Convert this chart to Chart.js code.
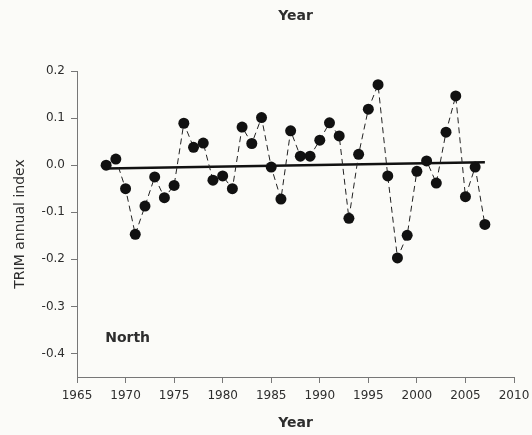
<!DOCTYPE html>
<html lang="en">
<head>
    <meta charset="UTF-8">
    <title>TRIM annual index - North</title>
    <script src="https://cdn.jsdelivr.net/npm/chart.js"></script>
    <style>
        body {
            margin: 0;
            background-color: #fbfbf8;
        }
        #chartBox {
            width: 532px;
            height: 435px;
        }
    </style>
</head>
<body>
    <div id="chartBox">
        <canvas id="trimChart" width="532" height="435"></canvas>
    </div>

    <script>
        // values
        const years = [1968, 1969, 1970, 1971, 1972, 1973, 1974, 1975, 1976, 1977,
                       1978, 1979, 1980, 1981, 1982, 1983, 1984, 1985, 1986, 1987,
                       1988, 1989, 1990, 1991, 1992, 1993, 1994, 1995, 1996, 1997,
                       1998, 1999, 2000, 2001, 2002, 2003, 2004, 2005, 2006, 2007];
        const indexValues = [0.000, 0.013, -0.050, -0.147, -0.087, -0.025, -0.069, -0.043, 0.089, 0.038,
                             0.047, -0.032, -0.023, -0.050, 0.081, 0.046, 0.101, -0.004, -0.072, 0.073,
                             0.019, 0.019, 0.053, 0.090, 0.062, -0.113, 0.023, 0.119, 0.171, -0.023,
                             -0.197, -0.149, -0.013, 0.009, -0.038, 0.070, 0.147, -0.067, -0.004, -0.126];
        const trendYears = [1968, 2007];
        const trendValues = [-0.007, 0.006];
        const xTicks = [1965, 1970, 1975, 1980, 1985, 1990, 1995, 2000, 2005, 2010];
        const yTicks = [0.2, 0.1, 0.0, -0.1, -0.2, -0.3, -0.4];
        const regionLabel = 'North';

        const textColor = '#2e2e2e';
        const axisColor = '#777777';

        // draws the region name inside the plot
        const regionLabelPlugin = {
            id: 'regionLabel',
            afterDatasetsDraw(chart) {
                const { ctx, scales } = chart;
                const x = scales.x.getPixelForValue(1967.9);
                const y = scales.y.getPixelForValue(-0.367);
                ctx.save();
                ctx.font = 'bold 14px "DejaVu Sans"';
                ctx.fillStyle = textColor;
                ctx.textAlign = 'left';
                ctx.textBaseline = 'middle';
                ctx.fillText(regionLabel, x, y);
                ctx.restore();
            }
        };

        const ctx = document.getElementById('trimChart').getContext('2d');
        new Chart(ctx, {
            type: 'scatter',
            data: {
                datasets: [
                    {
                        label: 'TRIM annual index',
                        data: years.map((yr, i) => ({ x: yr, y: indexValues[i] })),
                        showLine: true,
                        borderColor: '#222222',
                        borderWidth: 1,
                        borderDash: [6, 4],
                        pointRadius: 5.5,
                        pointBackgroundColor: '#111111',
                        pointBorderColor: '#111111',
                        pointBorderWidth: 0
                    },
                    {
                        label: 'Trend',
                        data: trendYears.map((yr, i) => ({ x: yr, y: trendValues[i] })),
                        showLine: true,
                        borderColor: '#111111',
                        borderWidth: 2.5,
                        pointRadius: 0
                    }
                ]
            },
            options: {
                responsive: false,
                animation: false,
                devicePixelRatio: 1,
                layout: {
                    padding: { left: 0, right: 18, top: 0, bottom: 0 }
                },
                plugins: {
                    legend: { display: false },
                    tooltip: { enabled: false }
                },
                scales: {
                    // empty top axis, only carries the upper "Year" title
                    xTop: {
                        type: 'linear',
                        position: 'top',
                        min: 1965,
                        max: 2010,
                        afterFit: (scale) => {
                            scale.height = 71;
                            scale.paddingLeft = 0;
                            scale.paddingRight = 0;
                        },
                        grid: { display: false },
                        border: { display: false },
                        ticks: { display: false },
                        title: {
                            display: true,
                            text: 'Year',
                            color: textColor,
                            font: { family: 'DejaVu Sans', size: 14, weight: 'bold' },
                            padding: { top: 8, bottom: 0 }
                        }
                    },
                    x: {
                        type: 'linear',
                        position: 'bottom',
                        min: 1965,
                        max: 2010,
                        afterBuildTicks: (scale) => {
                            scale.ticks = xTicks.map(v => ({ value: v }));
                        },
                        afterFit: (scale) => {
                            scale.height = 58;
                            scale.paddingLeft = 0;
                            scale.paddingRight = 0;
                        },
                        grid: {
                            display: true,
                            drawOnChartArea: false,
                            drawTicks: true,
                            tickLength: 6,
                            color: axisColor
                        },
                        border: { display: true, color: axisColor, width: 1 },
                        ticks: {
                            color: textColor,
                            padding: 6,
                            maxRotation: 0,
                            autoSkip: false,
                            font: { family: 'DejaVu Sans', size: 12 },
                            callback: (v) => String(v)
                        },
                        title: {
                            display: true,
                            text: 'Year',
                            color: textColor,
                            font: { family: 'DejaVu Sans', size: 14, weight: 'bold' },
                            padding: { top: 0, bottom: 3 }
                        }
                    },
                    y: {
                        min: -0.45,
                        max: 0.2,
                        afterBuildTicks: (scale) => {
                            scale.ticks = yTicks.map(v => ({ value: v }));
                        },
                        afterFit: (scale) => {
                            scale.width = 77;
                        },
                        grid: {
                            display: true,
                            drawOnChartArea: false,
                            drawTicks: true,
                            tickLength: 6,
                            color: axisColor
                        },
                        border: { display: true, color: axisColor, width: 1 },
                        ticks: {
                            color: textColor,
                            padding: 6,
                            autoSkip: false,
                            font: { family: 'DejaVu Sans', size: 12 },
                            callback: (v) => Number(v).toFixed(1)
                        },
                        title: {
                            display: true,
                            text: 'TRIM annual index',
                            color: textColor,
                            font: { family: 'DejaVu Sans', size: 14 },
                            padding: { top: 12, bottom: 0 }
                        }
                    }
                }
            },
            plugins: [regionLabelPlugin]
        });
    </script>
</body>
</html>
